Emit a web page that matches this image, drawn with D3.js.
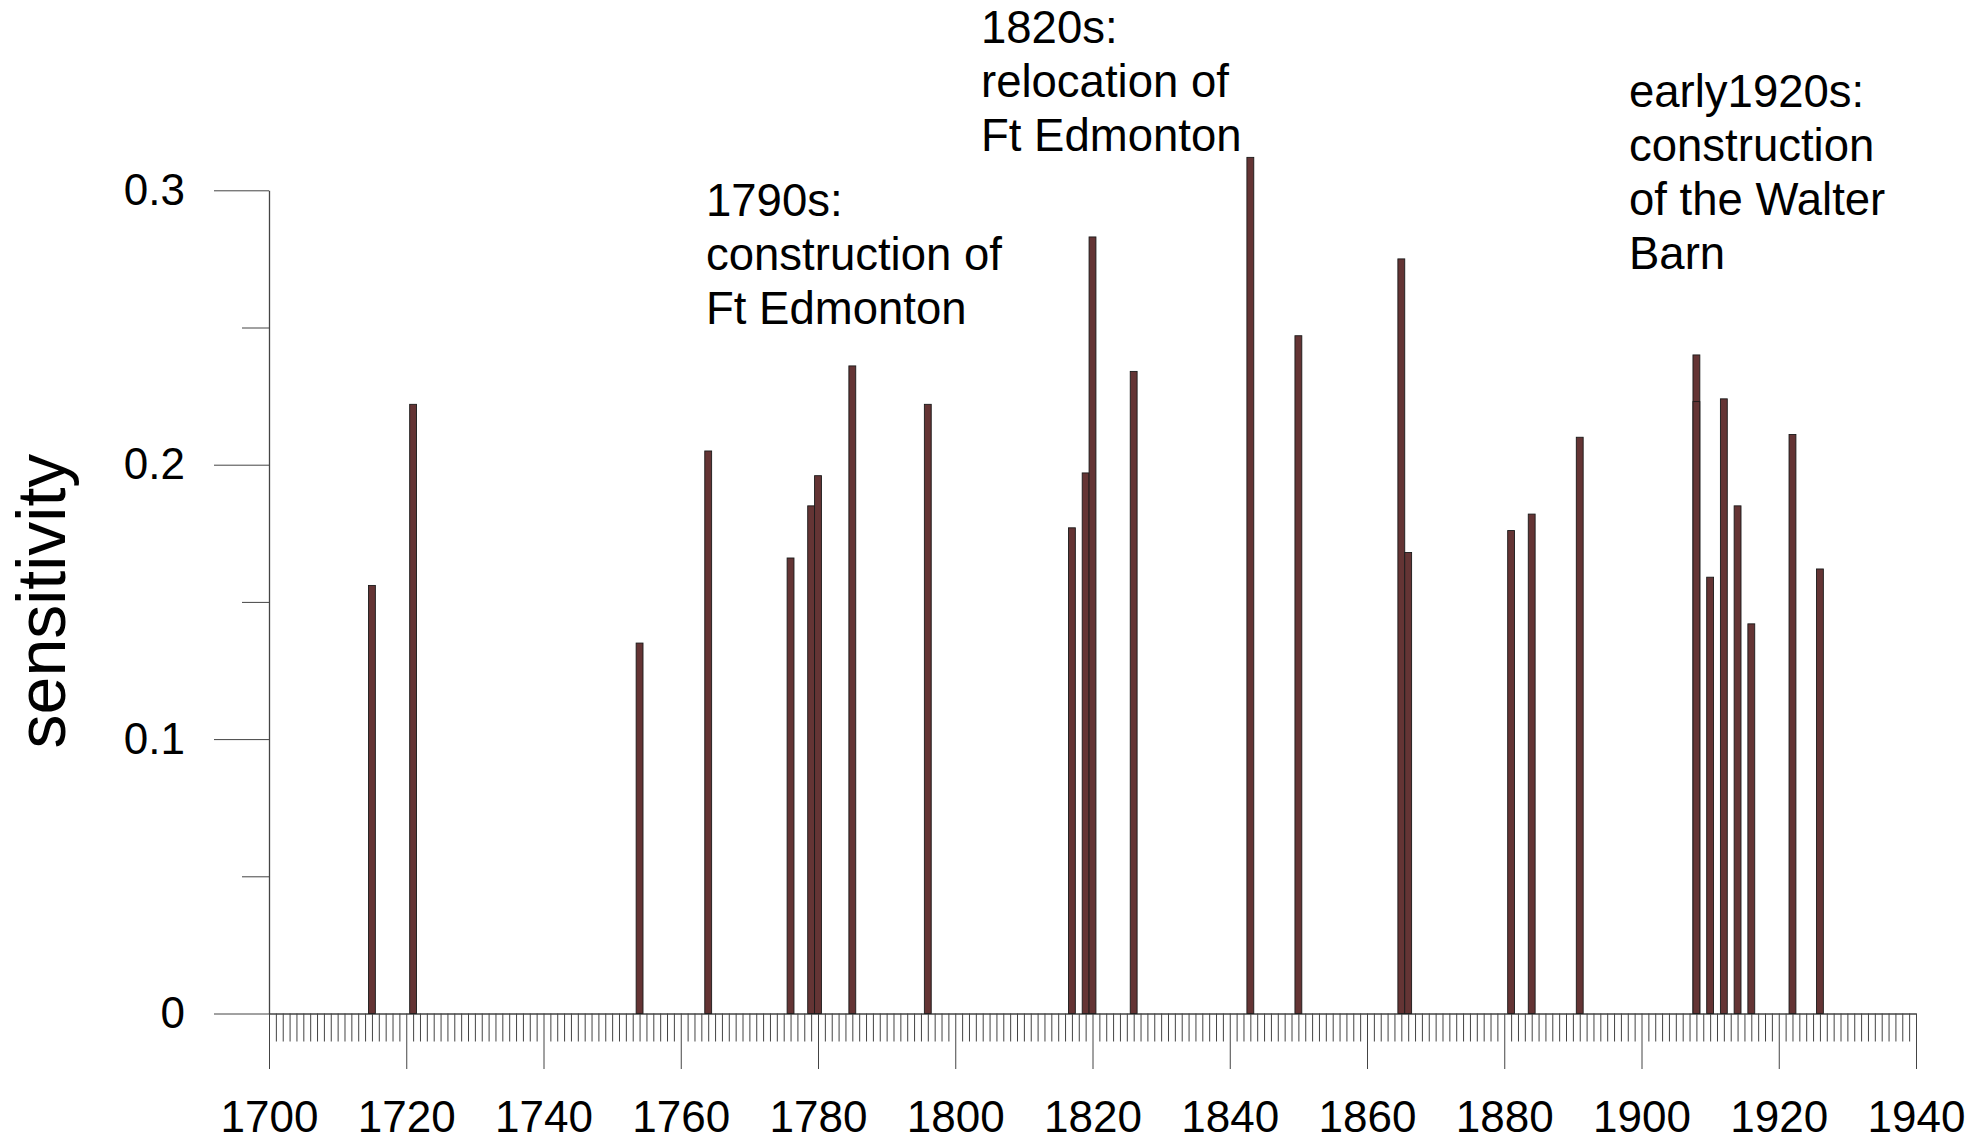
<!DOCTYPE html>
<html>
<head>
<meta charset="utf-8">
<script src="https://cdn.jsdelivr.net/npm/d3@7"></script>
<style>
  html, body { margin: 0; padding: 0; background: #fff; }
  svg { display: block; }
  text { font-family: "Liberation Sans", Arial, sans-serif; fill: #000; }
</style>
</head>
<body>
<svg id="chart" width="1988" height="1143"></svg>
<script>
// ---- data ----
const years = [1715, 1721, 1754, 1764, 1776, 1779, 1780, 1785, 1796, 1817, 1819, 1820, 1826, 1843, 1850, 1865, 1866, 1881, 1884, 1891, 1908, 1908, 1910, 1912, 1914, 1916, 1922, 1926];
const sensitivity = [0.156, 0.222, 0.135, 0.205, 0.166, 0.185, 0.196, 0.236, 0.222, 0.177, 0.197, 0.283, 0.234, 0.312, 0.247, 0.275, 0.168, 0.176, 0.182, 0.210, 0.240, 0.223, 0.159, 0.224, 0.185, 0.142, 0.211, 0.162];
const xMajorTicks = [1700, 1720, 1740, 1760, 1780, 1800, 1820, 1840, 1860, 1880, 1900, 1920, 1940];
const yMajorTicks = [0, 0.1, 0.2, 0.3];
const yMajorLabels = ["0", "0.1", "0.2", "0.3"];
const yMinorTicks = [0.05, 0.15, 0.25];
const yAxisTitle = "sensitivity";
const annotation1790 = ["1790s:", "construction of", "Ft Edmonton"];
const annotation1820 = ["1820s:", "relocation of", "Ft Edmonton"];
const annotation1920 = ["early1920s:", "construction", "of the Walter", "Barn"];

// ---- layout ----
const svg = d3.select("#chart");
const x = d3.scaleLinear().domain([1700, 1940]).range([269, 1916]);
const y = d3.scaleLinear().domain([0, 0.3]).range([1013.5, 190.3]);
const axisColor = "#444";
const fontSize = 44;
const annoFontSize = 45.5;

const xMinorTicks = d3.range(1701, 1940).filter(v => v % 20 !== 0);

// x minor ticks
const gxMinor = svg.append("g")
  .attr("transform", `translate(0,${y(0)})`)
  .call(d3.axisBottom(x).tickValues(xMinorTicks).tickSize(28).tickSizeOuter(0).tickFormat(""));
gxMinor.select(".domain").remove();

// x major ticks with labels
const gx = svg.append("g")
  .attr("transform", `translate(0,${y(0)})`)
  .call(d3.axisBottom(x).tickValues(xMajorTicks).tickSize(55.5).tickSizeOuter(0).tickPadding(32).tickFormat(d3.format("d")));

// y minor ticks
const gyMinor = svg.append("g")
  .attr("transform", `translate(${x(1700)},0)`)
  .call(d3.axisLeft(y).tickValues(yMinorTicks).tickSize(27).tickSizeOuter(0).tickFormat(""));
gyMinor.select(".domain").remove();

// y major ticks with labels
const gy = svg.append("g")
  .attr("transform", `translate(${x(1700)},0)`)
  .call(d3.axisLeft(y).tickValues(yMajorTicks).tickSize(55).tickSizeOuter(0).tickPadding(29)
    .tickFormat((d, i) => yMajorLabels[i]));

[gxMinor, gx, gyMinor, gy].forEach(g => {
  g.selectAll("line").attr("stroke", axisColor).attr("stroke-width", 1);
  g.selectAll(".domain").attr("stroke", axisColor).attr("stroke-width", 1.3);
  g.selectAll("text").attr("font-size", fontSize).attr("fill", "#000")
    .attr("font-family", '"Liberation Sans", Arial, sans-serif');
});

// bars
svg.append("g").selectAll("rect")
  .data(years.map((yr, i) => ({ year: yr, value: sensitivity[i] })))
  .join("rect")
  .attr("x", d => x(d.year - 0.5))
  .attr("width", d => x(d.year + 0.5) - x(d.year - 0.5))
  .attr("y", d => y(d.value))
  .attr("height", d => y(0) - y(d.value))
  .attr("fill", "#643434")
  .attr("stroke", "#1a1a1a")
  .attr("stroke-width", 0.9);

// y axis title
svg.append("text")
  .attr("transform", `translate(65,601) rotate(-90)`)
  .attr("text-anchor", "middle")
  .attr("font-size", 68)
  .text(yAxisTitle);

// annotations
function annotate(lines, left, firstBaseline) {
  const t = svg.append("text").attr("font-size", annoFontSize);
  lines.forEach((ln, i) => {
    t.append("tspan").attr("x", left).attr("y", firstBaseline + i * 54).text(ln);
  });
}
annotate(annotation1790, 706, 216);
annotate(annotation1820, 981, 43);
annotate(annotation1920, 1629, 107);
</script>
</body>
</html>
